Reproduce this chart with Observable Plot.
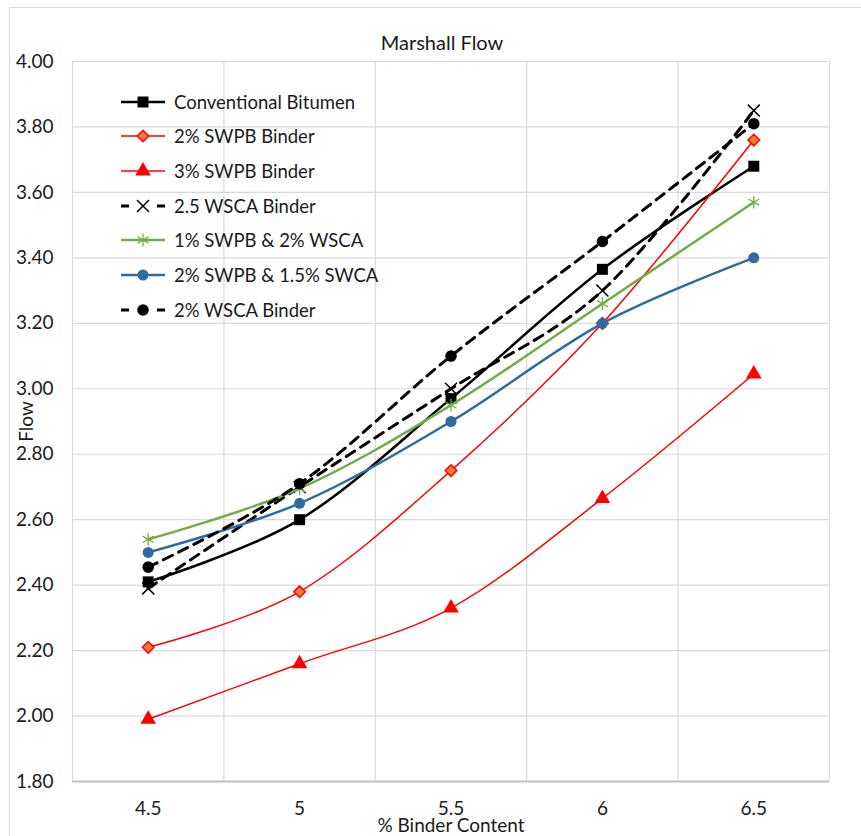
<!DOCTYPE html>
<html><head><meta charset="utf-8">
<script src="https://cdn.jsdelivr.net/npm/d3@7"></script>
<script src="https://cdn.jsdelivr.net/npm/@observablehq/plot@0.6"></script>
<style>
body{margin:0;background:#fff;overflow:hidden;font-family:Lato,"Open Sans",sans-serif}
#wrap{position:relative;width:861px;height:836px;overflow:hidden}
#border{position:absolute;left:9px;top:7px;width:900px;height:900px;border:1px solid #d9d9d9;box-sizing:border-box}
#chart{position:absolute;left:0;top:0}
#legend{position:absolute;left:0;top:0;width:861px;height:836px;pointer-events:none}
.row{position:absolute;left:119px;height:30px;display:flex;align-items:center;font-size:18.5px;color:#1a1a1a;white-space:nowrap}
.row svg{margin-right:5px}
</style></head><body>
<div id="wrap"><div id="border"></div><div id="chart"></div><div id="legend"></div></div>
<script>
// ---- data ----
const binder = [4.5, 5, 5.5, 6, 6.5];
const conventionalBitumen = [2.41, 2.60, 2.97, 3.365, 3.68];
const swpb2Binder = [2.21, 2.38, 2.75, 3.20, 3.76];
const swpb3Binder = [1.99, 2.16, 2.33, 2.665, 3.045];
const wsca25Binder = [2.39, 2.70, 3.00, 3.30, 3.85];
const swpb1Wsca2 = [2.54, 2.695, 2.95, 3.26, 3.57];
const swpb2Swca15 = [2.50, 2.65, 2.90, 3.20, 3.40];
const wsca2Binder = [2.455, 2.71, 3.10, 3.45, 3.81];
const yTicks = [1.8, 2.0, 2.2, 2.4, 2.6, 2.8, 3.0, 3.2, 3.4, 3.6, 3.8, 4.0];
const seriesNames = ["Conventional Bitumen", "2% SWPB Binder", "3% SWPB Binder", "2.5 WSCA Binder", "1% SWPB & 2% WSCA", "2% SWPB & 1.5% SWCA", "2% WSCA Binder"];
const seriesValues = [conventionalBitumen, swpb2Binder, swpb3Binder, wsca25Binder, swpb1Wsca2, swpb2Swca15, wsca2Binder];

// ---- styles ----
const styles = [
  {stroke:"#000000", width:2.5, dash:null, symbol:"square", r:6.2, fill:"#000000", mstroke:"#000000", msw:0},
  {stroke:"#ff0000", width:1.5, dash:null, symbol:"diamond2", r:5.2, fill:"#ED7D31", mstroke:"#ff0000", msw:1.5},
  {stroke:"#ff0000", width:1.5, dash:null, symbol:"triangle", r:5.8, fill:"#ff0000", mstroke:"#ff0000", msw:0},
  {stroke:"#000000", width:3, dash:"10,7", symbol:"times", r:5.5, fill:"none", mstroke:"#000000", msw:1.5},
  {stroke:"#70AD47", width:2.5, dash:null, symbol:"asterisk", r:6, fill:"none", mstroke:"#70AD47", msw:1.3},
  {stroke:"#2E6BA0", width:2.5, dash:null, symbol:"circle", r:5.5, fill:"#2E6BA0", mstroke:"#2E6BA0", msw:0},
  {stroke:"#000000", width:3, dash:"10,7", symbol:"circle", r:5.8, fill:"#000000", mstroke:"#000000", msw:0}
];

const bounds = [...binder.map(b => b - 0.25), binder[binder.length - 1] + 0.25];

const marks = [
  Plot.gridY(yTicks, {stroke:"#d9d9d9", strokeOpacity:1, strokeWidth:1.2}),
  Plot.gridX(bounds, {stroke:"#d9d9d9", strokeOpacity:1, strokeWidth:1.2}),
  Plot.ruleY([1.8], {stroke:"#bfbfbf", strokeWidth:1.8}),
  Plot.axisY(yTicks, {tickFormat:d3.format(".2f"), tickSize:0, tickPadding:19, fontSize:19, fill:"#1a1a1a", label:"Flow", labelAnchor:"center", labelArrow:"none", labelOffset:53}),
  Plot.axisX(binder, {tickFormat:d => String(d), tickSize:0, tickPadding:20, fontSize:19, fill:"#1a1a1a", label:"% Binder Content", labelAnchor:"center", labelArrow:"none", labelOffset:50}),
  Plot.text(["Marshall Flow"], {frameAnchor:"top", dy:-26, dx:-9, fontSize:20, fill:"#1a1a1a"})
];

seriesNames.forEach((name, i) => {
  const s = styles[i];
  const data = binder.map((b, j) => ({x:b, y:seriesValues[i][j]}));
  marks.push(Plot.line(data, {x:"x", y:"y", stroke:s.stroke, strokeWidth:s.width, strokeDasharray:s.dash, curve:"cardinal", tension:0}));
  marks.push(Plot.dot(data, {x:"x", y:"y", symbol:() => s.symbol, r:s.r, fill:s.fill, stroke:s.mstroke, strokeWidth:s.msw}));
});

const chart = Plot.plot({
  width:861, height:836,
  marginLeft:72, marginRight:32, marginTop:61, marginBottom:55,
  style:{fontFamily:"Lato, 'Open Sans', sans-serif", background:"transparent"},
  x:{type:"linear", domain:[4.25, 6.75], axis:null},
  y:{domain:[1.8, 4.0], axis:null},
  symbol:{type:"identity"},
  marks
});
document.getElementById("chart").appendChild(chart);

// ---- legend ----
const legend = document.getElementById("legend");
const symMap = {square:d3.symbolSquare, diamond2:d3.symbolDiamond2, triangle:d3.symbolTriangle, times:d3.symbolTimes, asterisk:d3.symbolAsterisk, circle:d3.symbolCircle};
const rowTops = [87, 121, 156, 191, 225, 260, 295];
seriesNames.forEach((name, i) => {
  const s = styles[i];
  const row = document.createElement("div");
  row.className = "row";
  row.style.top = rowTops[i] + "px";
  const path = d3.symbol(symMap[s.symbol], Math.PI * s.r * s.r)();
  const dash = s.dash ? `stroke-dasharray="8,28"` : "";
  row.innerHTML = `<svg width="50" height="30" viewBox="0 0 50 30"><line x1="2" y1="15" x2="46" y2="15" stroke="${s.stroke}" stroke-width="${s.width}" ${dash}/><path d="${path}" transform="translate(24,15)" fill="${s.fill}" stroke="${s.mstroke}" stroke-width="${s.msw}"/></svg><span>${name}</span>`;
  legend.appendChild(row);
});
</script>
</body></html>
